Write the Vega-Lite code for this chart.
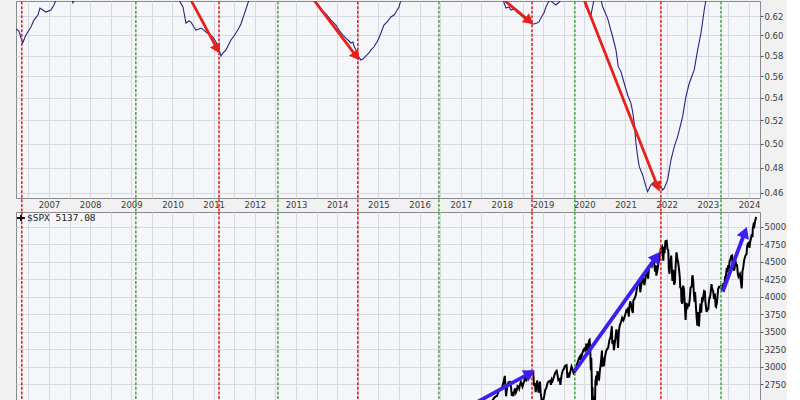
{
  "$schema": "https://vega.github.io/schema/vega-lite/v6.json",
  "padding": {"left": 12, "top": 0, "right": 0, "bottom": 0},
  "background": "#f1f1f2",
  "bounds": "flush",
  "spacing": 14,
  "config": {
    "view": {"fill": "#f5f6fa", "stroke": "#8a8a8a", "strokeWidth": 1},
    "axis": {"labelFont": "DejaVu Sans", "labelFontSize": 8.5, "labelColor": "#3a3a3a", "gridColor": "#d6d9df", "gridWidth": 1, "gridOpacity": 1, "domain": false, "tickColor": "#555555", "title": null, "labelOverlap": false, "labelFlush": false},
    "axisX": {"ticks": false, "labelPadding": 2},
    "axisY": {"ticks": true, "tickSize": 3, "labelPadding": 1}
  },
  "datasets": {
    "ratio": [
      {"t":2006.199,"ratio":0.6066},{"t":2006.271,"ratio":0.6045},{"t":2006.361,"ratio":0.5924},{"t":2006.441,"ratio":0.6005},{"t":2006.563,"ratio":0.6086},{"t":2006.636,"ratio":0.6158},{"t":2006.733,"ratio":0.621},{"t":2006.781,"ratio":0.6284},{"t":2006.854,"ratio":0.6263},{"t":2006.927,"ratio":0.6242},{"t":2007.049,"ratio":0.6263},{"t":2007.121,"ratio":0.6316},{"t":2007.17,"ratio":0.637},
      {"t":2007.29,"ratio":0.652},{"t":2007.45,"ratio":0.646},{"t":2007.534,"ratio":0.64},{"t":2007.583,"ratio":0.634},{"t":2007.631,"ratio":0.641},{"t":2007.8,"ratio":0.658},{"t":2008.02,"ratio":0.667},{"t":2008.4,"ratio":0.676},{"t":2008.75,"ratio":0.679},{"t":2009.1,"ratio":0.672},{"t":2009.48,"ratio":0.664},{"t":2009.8,"ratio":0.652},{"t":2010.0,"ratio":0.645},{"t":2010.08,"ratio":0.64},
      {"t":2010.157,"ratio":0.637},{"t":2010.254,"ratio":0.6295},{"t":2010.327,"ratio":0.6127},{"t":2010.4,"ratio":0.6148},{"t":2010.448,"ratio":0.6137},{"t":2010.521,"ratio":0.6086},{"t":2010.57,"ratio":0.6054},{"t":2010.643,"ratio":0.6065},{"t":2010.691,"ratio":0.6075},{"t":2010.764,"ratio":0.6054},{"t":2010.813,"ratio":0.6035},{"t":2010.885,"ratio":0.6014},{"t":2010.983,"ratio":0.5984},{"t":2011.055,"ratio":0.5934},{"t":2011.104,"ratio":0.5894},{"t":2011.177,"ratio":0.5796},{"t":2011.225,"ratio":0.5825},{"t":2011.298,"ratio":0.5855},{"t":2011.371,"ratio":0.5914},{"t":2011.42,"ratio":0.5954},{"t":2011.492,"ratio":0.5994},{"t":2011.541,"ratio":0.6025},{"t":2011.614,"ratio":0.6076},{"t":2011.662,"ratio":0.6117},{"t":2011.735,"ratio":0.621},{"t":2011.784,"ratio":0.6274},{"t":2011.857,"ratio":0.637},
      {"t":2012.15,"ratio":0.664},{"t":2012.63,"ratio":0.682},{"t":2013.12,"ratio":0.671},{"t":2013.36,"ratio":0.646},
      {"t":2013.435,"ratio":0.637},{"t":2013.532,"ratio":0.6305},{"t":2013.605,"ratio":0.6263},{"t":2013.727,"ratio":0.6221},{"t":2013.848,"ratio":0.6158},{"t":2013.969,"ratio":0.6106},{"t":2014.042,"ratio":0.6054},{"t":2014.139,"ratio":0.6004},{"t":2014.212,"ratio":0.5974},{"t":2014.285,"ratio":0.5944},{"t":2014.333,"ratio":0.5924},{"t":2014.382,"ratio":0.5934},{"t":2014.406,"ratio":0.5894},{"t":2014.455,"ratio":0.5855},{"t":2014.503,"ratio":0.5796},{"t":2014.576,"ratio":0.5757},{"t":2014.625,"ratio":0.5766},{"t":2014.697,"ratio":0.5796},{"t":2014.771,"ratio":0.5825},{"t":2014.819,"ratio":0.5855},{"t":2014.892,"ratio":0.5884},{"t":2014.965,"ratio":0.5934},{"t":2015.014,"ratio":0.5974},{"t":2015.062,"ratio":0.6025},{"t":2015.135,"ratio":0.6106},{"t":2015.208,"ratio":0.6137},{"t":2015.305,"ratio":0.619},{"t":2015.378,"ratio":0.621},{"t":2015.427,"ratio":0.6242},{"t":2015.5,"ratio":0.6295},{"t":2015.548,"ratio":0.637},
      {"t":2016.03,"ratio":0.667},{"t":2016.52,"ratio":0.69},{"t":2017.0,"ratio":0.684},{"t":2017.49,"ratio":0.664},{"t":2017.85,"ratio":0.643},
      {"t":2018.025,"ratio":0.637},{"t":2018.098,"ratio":0.6284},{"t":2018.171,"ratio":0.6295},{"t":2018.219,"ratio":0.6263},{"t":2018.292,"ratio":0.6274},{"t":2018.365,"ratio":0.6242},{"t":2018.462,"ratio":0.621},{"t":2018.559,"ratio":0.6169},{"t":2018.656,"ratio":0.6138},{"t":2018.729,"ratio":0.6117},{"t":2018.778,"ratio":0.6117},{"t":2018.85,"ratio":0.6127},{"t":2018.899,"ratio":0.6138},{"t":2018.972,"ratio":0.62},{"t":2019.02,"ratio":0.6231},{"t":2019.069,"ratio":0.6295},{"t":2019.117,"ratio":0.6337},{"t":2019.166,"ratio":0.637},{"t":2019.215,"ratio":0.635},{"t":2019.31,"ratio":0.6316},{"t":2019.41,"ratio":0.6355},{"t":2019.5,"ratio":0.643},
      {"t":2019.68,"ratio":0.654},{"t":2019.87,"ratio":0.646},
      {"t":2019.992,"ratio":0.637},{"t":2020.04,"ratio":0.6295},{"t":2020.113,"ratio":0.6231},{"t":2020.162,"ratio":0.621},{"t":2020.186,"ratio":0.6263},{"t":2020.21,"ratio":0.6316},{"t":2020.235,"ratio":0.637},
      {"t":2020.33,"ratio":0.646},
      {"t":2020.405,"ratio":0.637},{"t":2020.446,"ratio":0.6298},{"t":2020.567,"ratio":0.6176},{"t":2020.689,"ratio":0.5987},{"t":2020.769,"ratio":0.5855},{"t":2020.825,"ratio":0.5692},{"t":2020.89,"ratio":0.5645},{"t":2020.97,"ratio":0.5535},{"t":2021.053,"ratio":0.5427},{"t":2021.133,"ratio":0.5351},{"t":2021.174,"ratio":0.5276},{"t":2021.213,"ratio":0.5174},{"t":2021.255,"ratio":0.5002},{"t":2021.296,"ratio":0.489},{"t":2021.335,"ratio":0.4809},{"t":2021.417,"ratio":0.4742},{"t":2021.497,"ratio":0.4649},{"t":2021.538,"ratio":0.461},{"t":2021.618,"ratio":0.4663},{"t":2021.699,"ratio":0.4688},{"t":2021.781,"ratio":0.4676},{"t":2021.861,"ratio":0.4649},{"t":2021.903,"ratio":0.4623},{"t":2021.942,"ratio":0.4637},{"t":2022.024,"ratio":0.4702},{"t":2022.104,"ratio":0.4863},{"t":2022.185,"ratio":0.4974},{"t":2022.267,"ratio":0.5058},{"t":2022.388,"ratio":0.5232},{"t":2022.468,"ratio":0.5412},{"t":2022.549,"ratio":0.5535},{"t":2022.67,"ratio":0.5661},{"t":2022.753,"ratio":0.5855},{"t":2022.833,"ratio":0.6022},{"t":2022.913,"ratio":0.6263},{"t":2022.954,"ratio":0.637},
      {"t":2023.2,"ratio":0.667},{"t":2023.56,"ratio":0.69},{"t":2023.9,"ratio":0.7},{"t":2024.17,"ratio":0.705}
    ],
    "spx": [
      {"t":2006.2,"spx":1295},{"t":2006.5,"spx":1270},{"t":2006.75,"spx":1336},{"t":2007.0,"spx":1418},{"t":2007.25,"spx":1482},{"t":2007.5,"spx":1455},{"t":2007.75,"spx":1549},{"t":2008.0,"spx":1379},{"t":2008.25,"spx":1386},{"t":2008.5,"spx":1267},{"t":2008.75,"spx":969},{"t":2009.0,"spx":826},{"t":2009.2,"spx":683},{"t":2009.5,"spx":987},{"t":2009.75,"spx":1036},{"t":2010.0,"spx":1074},{"t":2010.25,"spx":1187},{"t":2010.5,"spx":1102},{"t":2010.75,"spx":1183},{"t":2011.0,"spx":1286},{"t":2011.25,"spx":1364},{"t":2011.5,"spx":1292},{"t":2011.75,"spx":1253},{"t":2012.0,"spx":1312},{"t":2012.25,"spx":1398},{"t":2012.5,"spx":1379},{"t":2012.75,"spx":1412},{"t":2013.0,"spx":1498},{"t":2013.25,"spx":1598},{"t":2013.5,"spx":1686},{"t":2013.75,"spx":1757},{"t":2014.0,"spx":1783},{"t":2014.25,"spx":1884},{"t":2014.5,"spx":1931},{"t":2014.75,"spx":2018},{"t":2015.0,"spx":1995},{"t":2015.25,"spx":2086},{"t":2015.5,"spx":2104},{"t":2015.75,"spx":2079},{"t":2016.0,"spx":1940},{"t":2016.25,"spx":2065},{"t":2016.5,"spx":2174},{"t":2016.75,"spx":2126},{"t":2016.92,"spx":2239},
      {"t":2017.0,"spx":2258},{"t":2017.08,"spx":2279},{"t":2017.16,"spx":2351},{"t":2017.2,"spx":2395},{"t":2017.28,"spx":2344},{"t":2017.36,"spx":2389},{"t":2017.44,"spx":2415},{"t":2017.48,"spx":2433},{"t":2017.52,"spx":2419},{"t":2017.56,"spx":2459},{"t":2017.6,"spx":2477},{"t":2017.64,"spx":2441},{"t":2017.66,"spx":2426},{"t":2017.68,"spx":2444},{"t":2017.72,"spx":2500},{"t":2017.76,"spx":2508},{"t":2017.8,"spx":2550},{"t":2017.84,"spx":2575},{"t":2017.88,"spx":2585},{"t":2017.92,"spx":2650},{"t":2017.96,"spx":2680},
      {"t":2018.0,"spx":2695},{"t":2018.04,"spx":2786},{"t":2018.07,"spx":2872},{"t":2018.1,"spx":2581},{"t":2018.13,"spx":2732},{"t":2018.16,"spx":2780},{"t":2018.19,"spx":2786},{"t":2018.22,"spx":2717},{"t":2018.24,"spx":2588},{"t":2018.26,"spx":2640},{"t":2018.28,"spx":2582},{"t":2018.3,"spx":2656},{"t":2018.32,"spx":2693},{"t":2018.34,"spx":2634},{"t":2018.36,"spx":2663},{"t":2018.38,"spx":2728},{"t":2018.4,"spx":2720},{"t":2018.42,"spx":2689},{"t":2018.44,"spx":2748},{"t":2018.46,"spx":2786},{"t":2018.48,"spx":2754},{"t":2018.5,"spx":2718},{"t":2018.54,"spx":2798},{"t":2018.57,"spx":2846},{"t":2018.59,"spx":2813},{"t":2018.61,"spx":2840},{"t":2018.63,"spx":2850},{"t":2018.66,"spx":2914},{"t":2018.68,"spx":2872},{"t":2018.71,"spx":2930},{"t":2018.74,"spx":2914},{"t":2018.76,"spx":2925},{"t":2018.78,"spx":2728},{"t":2018.8,"spx":2768},{"t":2018.82,"spx":2641},{"t":2018.84,"spx":2723},{"t":2018.855,"spx":2806},{"t":2018.87,"spx":2736},{"t":2018.89,"spx":2633},{"t":2018.91,"spx":2743},{"t":2018.925,"spx":2790},{"t":2018.94,"spx":2633},{"t":2018.96,"spx":2546},{"t":2018.98,"spx":2351},
      {"t":2019.0,"spx":2510},{"t":2019.03,"spx":2596},{"t":2019.05,"spx":2670},{"t":2019.08,"spx":2704},{"t":2019.11,"spx":2775},{"t":2019.14,"spx":2793},{"t":2019.17,"spx":2803},{"t":2019.19,"spx":2744},{"t":2019.21,"spx":2822},{"t":2019.23,"spx":2800},{"t":2019.25,"spx":2834},{"t":2019.28,"spx":2895},{"t":2019.31,"spx":2933},{"t":2019.33,"spx":2945},{"t":2019.35,"spx":2881},{"t":2019.37,"spx":2812},{"t":2019.4,"spx":2826},{"t":2019.42,"spx":2744},{"t":2019.45,"spx":2886},{"t":2019.48,"spx":2954},{"t":2019.5,"spx":2964},{"t":2019.53,"spx":3014},{"t":2019.57,"spx":3025},{"t":2019.59,"spx":2844},{"t":2019.61,"spx":2918},{"t":2019.63,"spx":2847},{"t":2019.66,"spx":2926},{"t":2019.69,"spx":3007},{"t":2019.72,"spx":2962},{"t":2019.75,"spx":2888},{"t":2019.78,"spx":2970},{"t":2019.81,"spx":3023},{"t":2019.84,"spx":3066},{"t":2019.87,"spx":3120},{"t":2019.9,"spx":3153},{"t":2019.92,"spx":3093},{"t":2019.95,"spx":3192},{"t":2019.98,"spx":3240},
      {"t":2020.0,"spx":3258},{"t":2020.02,"spx":3235},{"t":2020.04,"spx":3275},{"t":2020.05,"spx":3330},{"t":2020.07,"spx":3244},{"t":2020.08,"spx":3225},{"t":2020.1,"spx":3328},{"t":2020.12,"spx":3380},{"t":2020.13,"spx":3386},{"t":2020.145,"spx":3225},{"t":2020.16,"spx":2954},{"t":2020.17,"spx":3130},{"t":2020.18,"spx":2882},{"t":2020.19,"spx":2480},{"t":2020.2,"spx":2711},{"t":2020.21,"spx":2386},{"t":2020.22,"spx":2305},{"t":2020.225,"spx":2237},{"t":2020.23,"spx":2475},{"t":2020.245,"spx":2584},{"t":2020.26,"spx":2488},{"t":2020.27,"spx":2790},{"t":2020.29,"spx":2875},{"t":2020.3,"spx":2737},{"t":2020.32,"spx":2939},{"t":2020.34,"spx":2830},{"t":2020.36,"spx":2820},{"t":2020.38,"spx":2955},{"t":2020.4,"spx":3044},{"t":2020.43,"spx":3232},{"t":2020.44,"spx":3002},{"t":2020.46,"spx":3131},{"t":2020.48,"spx":3009},{"t":2020.5,"spx":3130},{"t":2020.53,"spx":3224},{"t":2020.56,"spx":3258},{"t":2020.58,"spx":3271},{"t":2020.61,"spx":3380},{"t":2020.64,"spx":3431},{"t":2020.67,"spx":3580},{"t":2020.68,"spx":3331},{"t":2020.7,"spx":3383},{"t":2020.72,"spx":3237},{"t":2020.75,"spx":3380},{"t":2020.78,"spx":3534},{"t":2020.8,"spx":3453},{"t":2020.82,"spx":3271},{"t":2020.84,"spx":3510},{"t":2020.86,"spx":3585},{"t":2020.89,"spx":3638},{"t":2020.92,"spx":3699},{"t":2020.95,"spx":3663},{"t":2020.97,"spx":3694},
      {"t":2021.0,"spx":3756},{"t":2021.03,"spx":3825},{"t":2021.05,"spx":3768},{"t":2021.07,"spx":3851},{"t":2021.08,"spx":3714},{"t":2021.1,"spx":3887},{"t":2021.12,"spx":3934},{"t":2021.14,"spx":3876},{"t":2021.16,"spx":3811},{"t":2021.18,"spx":3768},{"t":2021.19,"spx":3943},{"t":2021.22,"spx":3974},{"t":2021.25,"spx":4019},{"t":2021.28,"spx":4128},{"t":2021.3,"spx":4185},{"t":2021.32,"spx":4180},{"t":2021.34,"spx":4232},{"t":2021.36,"spx":4063},{"t":2021.38,"spx":4156},{"t":2021.41,"spx":4230},{"t":2021.44,"spx":4247},{"t":2021.46,"spx":4166},{"t":2021.49,"spx":4280},{"t":2021.51,"spx":4352},{"t":2021.54,"spx":4327},{"t":2021.55,"spx":4258},{"t":2021.57,"spx":4411},{"t":2021.6,"spx":4436},{"t":2021.62,"spx":4468},{"t":2021.64,"spx":4441},{"t":2021.66,"spx":4509},{"t":2021.68,"spx":4535},{"t":2021.7,"spx":4459},{"t":2021.72,"spx":4357},{"t":2021.74,"spx":4448},{"t":2021.75,"spx":4300},{"t":2021.78,"spx":4391},{"t":2021.8,"spx":4471},{"t":2021.82,"spx":4544},{"t":2021.84,"spx":4605},{"t":2021.86,"spx":4697},{"t":2021.87,"spx":4682},{"t":2021.89,"spx":4704},{"t":2021.905,"spx":4595},{"t":2021.92,"spx":4513},{"t":2021.935,"spx":4712},{"t":2021.95,"spx":4620},{"t":2021.97,"spx":4791},
      {"t":2022.0,"spx":4796},{"t":2022.02,"spx":4677},{"t":2022.04,"spx":4662},{"t":2022.055,"spx":4398},{"t":2022.07,"spx":4326},{"t":2022.08,"spx":4515},{"t":2022.1,"spx":4500},{"t":2022.11,"spx":4587},{"t":2022.13,"spx":4348},{"t":2022.14,"spx":4225},{"t":2022.16,"spx":4385},{"t":2022.18,"spx":4170},{"t":2022.2,"spx":4204},{"t":2022.22,"spx":4463},{"t":2022.24,"spx":4631},{"t":2022.26,"spx":4545},{"t":2022.28,"spx":4488},{"t":2022.3,"spx":4392},{"t":2022.32,"spx":4271},{"t":2022.33,"spx":4132},{"t":2022.35,"spx":4123},{"t":2022.36,"spx":3935},{"t":2022.38,"spx":3901},{"t":2022.4,"spx":4158},{"t":2022.42,"spx":4109},{"t":2022.44,"spx":3900},{"t":2022.46,"spx":3667},{"t":2022.48,"spx":3912},{"t":2022.5,"spx":3825},{"t":2022.52,"spx":3899},{"t":2022.54,"spx":3863},{"t":2022.56,"spx":3962},{"t":2022.58,"spx":4130},{"t":2022.61,"spx":4145},{"t":2022.62,"spx":4280},{"t":2022.63,"spx":4305},{"t":2022.645,"spx":4228},{"t":2022.66,"spx":4057},{"t":2022.68,"spx":3924},{"t":2022.69,"spx":4067},{"t":2022.71,"spx":3873},{"t":2022.73,"spx":3693},{"t":2022.745,"spx":3586},{"t":2022.76,"spx":3783},{"t":2022.77,"spx":3640},{"t":2022.785,"spx":3577},{"t":2022.8,"spx":3752},{"t":2022.82,"spx":3901},{"t":2022.84,"spx":3771},{"t":2022.86,"spx":3993},{"t":2022.88,"spx":3966},{"t":2022.91,"spx":4080},{"t":2022.93,"spx":4072},{"t":2022.94,"spx":3934},{"t":2022.955,"spx":3852},{"t":2022.97,"spx":3783},
      {"t":2023.0,"spx":3839},{"t":2023.01,"spx":3808},{"t":2023.02,"spx":3895},{"t":2023.04,"spx":3999},{"t":2023.05,"spx":3972},{"t":2023.07,"spx":4070},{"t":2023.09,"spx":4179},{"t":2023.1,"spx":4136},{"t":2023.12,"spx":4090},{"t":2023.13,"spx":4079},{"t":2023.15,"spx":3970},{"t":2023.17,"spx":4045},{"t":2023.19,"spx":3862},{"t":2023.2,"spx":3855},{"t":2023.22,"spx":3917},{"t":2023.23,"spx":3971},{"t":2023.25,"spx":4109},{"t":2023.27,"spx":4138},{"t":2023.3,"spx":4133},{"t":2023.32,"spx":4169},{"t":2023.34,"spx":4090},{"t":2023.36,"spx":4124},{"t":2023.38,"spx":4192},{"t":2023.4,"spx":4151},{"t":2023.42,"spx":4282},{"t":2023.44,"spx":4298},{"t":2023.46,"spx":4410},{"t":2023.48,"spx":4348},{"t":2023.495,"spx":4450},{"t":2023.51,"spx":4398},{"t":2023.53,"spx":4505},{"t":2023.55,"spx":4536},{"t":2023.57,"spx":4582},{"t":2023.59,"spx":4589},{"t":2023.6,"spx":4478},{"t":2023.62,"spx":4464},{"t":2023.635,"spx":4370},{"t":2023.65,"spx":4405},{"t":2023.67,"spx":4516},{"t":2023.69,"spx":4457},{"t":2023.71,"spx":4450},{"t":2023.73,"spx":4320},{"t":2023.745,"spx":4288},{"t":2023.76,"spx":4309},{"t":2023.78,"spx":4327},{"t":2023.8,"spx":4224},{"t":2023.82,"spx":4117},{"t":2023.83,"spx":4166},{"t":2023.84,"spx":4358},{"t":2023.86,"spx":4415},{"t":2023.88,"spx":4514},{"t":2023.9,"spx":4559},{"t":2023.92,"spx":4594},{"t":2023.94,"spx":4604},{"t":2023.955,"spx":4719},{"t":2023.97,"spx":4754},{"t":2023.995,"spx":4770},
      {"t":2024.01,"spx":4697},{"t":2024.03,"spx":4783},{"t":2024.05,"spx":4840},{"t":2024.07,"spx":4891},{"t":2024.085,"spx":4846},{"t":2024.09,"spx":4959},{"t":2024.11,"spx":5027},{"t":2024.13,"spx":5006},{"t":2024.15,"spx":5088},{"t":2024.16,"spx":5096},{"t":2024.17,"spx":5137.08}
    ],
    "signals": [
      {"t":2006.34,"signal":"sell"},{"t":2011.13,"signal":"sell"},{"t":2014.5,"signal":"sell"},{"t":2018.73,"signal":"sell"},{"t":2021.86,"signal":"sell"},
      {"t":2009.11,"signal":"buy"},{"t":2012.56,"signal":"buy"},{"t":2016.47,"signal":"buy"},{"t":2019.77,"signal":"buy"},{"t":2023.32,"signal":"buy"}
    ],
    "redArrows": [
      {"arrow":"r1","t0":2010.317,"v0":0.6478,"t1":2011.07,"v1":0.5878},
      {"arrow":"r2","t0":2013.251,"v0":0.6478,"t1":2014.443,"v1":0.5805},
      {"arrow":"r3","t0":2017.753,"v0":0.6478,"t1":2018.634,"v1":0.616},
      {"arrow":"r4","t0":2019.904,"v0":0.6478,"t1":2021.769,"v1":0.466}
    ],
    "blueArrows": [
      {"arrow":"bA","t0":2017.046,"v0":2385,"t1":2018.639,"v1":2897},
      {"arrow":"bB","t0":2019.756,"v0":2931,"t1":2021.726,"v1":4550},
      {"arrow":"bC","t0":2023.36,"v0":4071,"t1":2023.883,"v1":4893}
    ],
    "tag": [
      {"t":2006.32,"spx":5121,"label":"$SPX 5137.08"}
    ]
  },
  "vconcat": [
    {
      "width": 744,
      "height": 197,
      "resolve": {"axis": {"x": "independent", "y": "independent"}},
      "layer": [
        {
          "data": {"name": "ratio"},
          "mark": {"type": "line", "color": "#25257f", "strokeWidth": 1.1, "clip": true},
          "encoding": {
            "x": {"field": "t", "type": "quantitative", "scale": {"domain": [2006.2, 2024.267], "nice": false, "zero": false},
                  "axis": {"orient": "bottom", "values": [2007,2008,2009,2010,2011,2012,2013,2014,2015,2016,2017,2018,2019,2020,2021,2022,2023,2024], "format": "d", "grid": true, "labelOverlap": false}},
            "y": {"field": "ratio", "type": "quantitative", "scale": {"type": "log", "domain": [0.4561, 0.6359], "nice": false},
                  "axis": {"orient": "right", "values": [0.46,0.48,0.5,0.52,0.54,0.56,0.58,0.6,0.62], "format": ".2f", "grid": true, "labelOverlap": false}}
          }
        },
        {
          "data": {"name": "signals"},
          "mark": {"type": "rule", "strokeWidth": 1.6, "strokeDash": [3, 1.6], "clip": false},
          "encoding": {
            "x": {"field": "t", "type": "quantitative", "scale": {"domain": [2006.2, 2024.267], "nice": false, "zero": false},
                  "axis": {"orient": "bottom", "values": [2006.5,2007.5,2008.5,2009.5,2010.5,2011.5,2012.5,2013.5,2014.5,2015.5,2016.5,2017.5,2018.5,2019.5,2020.5,2021.5,2022.5,2023.5], "labels": false, "grid": true}},
            "y": {"datum": 0.6353, "type": "quantitative", "scale": {"type": "log", "domain": [0.4561, 0.6359], "nice": false}, "axis": null},
            "y2": {"datum": 0.4454},
            "color": {"field": "signal", "type": "nominal", "scale": {"domain": ["sell", "buy"], "range": ["#d92b2b", "#52a852"]}, "legend": null}
          }
        },
        {
          "data": {"name": "redArrows"},
          "mark": {"type": "rule", "color": "#e8201a", "strokeWidth": 2.8, "clip": true},
          "encoding": {
            "x": {"field": "t0", "type": "quantitative", "scale": {"domain": [2006.2, 2024.267], "nice": false, "zero": false}, "axis": null},
            "y": {"field": "v0", "type": "quantitative", "scale": {"type": "log", "domain": [0.4561, 0.6359], "nice": false}, "axis": null},
            "x2": {"field": "t1"},
            "y2": {"field": "v1"}
          }
        },
        {"data": {"name": "redArrows"}, "transform": [{"filter": "datum.arrow === 'r1'"}],
         "mark": {"type": "point", "shape": "triangle", "angle": 151.7, "filled": true, "size": 130, "color": "#e8201a", "opacity": 1, "clip": true},
         "encoding": {"x": {"field": "t1", "type": "quantitative", "scale": {"domain": [2006.2, 2024.267], "nice": false, "zero": false}, "axis": null},
                      "y": {"field": "v1", "type": "quantitative", "scale": {"type": "log", "domain": [0.4561, 0.6359], "nice": false}, "axis": null}}},
        {"data": {"name": "redArrows"}, "transform": [{"filter": "datum.arrow === 'r2'"}],
         "mark": {"type": "point", "shape": "triangle", "angle": 142.7, "filled": true, "size": 130, "color": "#e8201a", "opacity": 1, "clip": true},
         "encoding": {"x": {"field": "t1", "type": "quantitative", "scale": {"domain": [2006.2, 2024.267], "nice": false, "zero": false}, "axis": null},
                      "y": {"field": "v1", "type": "quantitative", "scale": {"type": "log", "domain": [0.4561, 0.6359], "nice": false}, "axis": null}}},
        {"data": {"name": "redArrows"}, "transform": [{"filter": "datum.arrow === 'r3'"}],
         "mark": {"type": "point", "shape": "triangle", "angle": 129.4, "filled": true, "size": 130, "color": "#e8201a", "opacity": 1, "clip": true},
         "encoding": {"x": {"field": "t1", "type": "quantitative", "scale": {"domain": [2006.2, 2024.267], "nice": false, "zero": false}, "axis": null},
                      "y": {"field": "v1", "type": "quantitative", "scale": {"type": "log", "domain": [0.4561, 0.6359], "nice": false}, "axis": null}}},
        {"data": {"name": "redArrows"}, "transform": [{"filter": "datum.arrow === 'r4'"}],
         "mark": {"type": "point", "shape": "triangle", "angle": 158.5, "filled": true, "size": 130, "color": "#e8201a", "opacity": 1, "clip": true},
         "encoding": {"x": {"field": "t1", "type": "quantitative", "scale": {"domain": [2006.2, 2024.267], "nice": false, "zero": false}, "axis": null},
                      "y": {"field": "v1", "type": "quantitative", "scale": {"type": "log", "domain": [0.4561, 0.6359], "nice": false}, "axis": null}}}
      ]
    },
    {
      "width": 744,
      "height": 188,
      "resolve": {"axis": {"x": "independent", "y": "independent"}},
      "layer": [
        {
          "data": {"name": "spx"},
          "mark": {"type": "line", "color": "#000000", "strokeWidth": 2, "clip": true},
          "encoding": {
            "x": {"field": "t", "type": "quantitative", "scale": {"domain": [2006.2, 2024.267], "nice": false, "zero": false},
                  "axis": {"orient": "bottom", "values": [2006.5,2007,2007.5,2008,2008.5,2009,2009.5,2010,2010.5,2011,2011.5,2012,2012.5,2013,2013.5,2014,2014.5,2015,2015.5,2016,2016.5,2017,2017.5,2018,2018.5,2019,2019.5,2020,2020.5,2021,2021.5,2022,2022.5,2023,2023.5,2024],
                           "labels": false, "grid": true}},
            "y": {"field": "spx", "type": "quantitative", "scale": {"domain": [2528, 5207], "nice": false, "zero": false},
                  "axis": {"orient": "right", "values": [2750,3000,3250,3500,3750,4000,4250,4500,4750,5000], "format": "d", "grid": true, "labelOverlap": false}}
          }
        },
        {
          "data": {"name": "signals"},
          "mark": {"type": "rule", "strokeWidth": 1.6, "strokeDash": [3, 1.6]},
          "encoding": {
            "x": {"field": "t", "type": "quantitative", "scale": {"domain": [2006.2, 2024.267], "nice": false, "zero": false}, "axis": null},
            "color": {"field": "signal", "type": "nominal", "scale": {"domain": ["sell", "buy"], "range": ["#d92b2b", "#52a852"]}, "legend": null}
          }
        },
        {
          "data": {"name": "blueArrows"},
          "mark": {"type": "rule", "color": "#3d1ef0", "strokeWidth": 3.8, "clip": true},
          "encoding": {
            "x": {"field": "t0", "type": "quantitative", "scale": {"domain": [2006.2, 2024.267], "nice": false, "zero": false}, "axis": null},
            "y": {"field": "v0", "type": "quantitative", "scale": {"domain": [2528, 5207], "nice": false, "zero": false}, "axis": null},
            "x2": {"field": "t1"},
            "y2": {"field": "v1"}
          }
        },
        {"data": {"name": "blueArrows"}, "transform": [{"filter": "datum.arrow === 'bA'"}],
         "mark": {"type": "point", "shape": "triangle", "angle": 61.3, "filled": true, "size": 170, "color": "#3d1ef0", "opacity": 1, "clip": true},
         "encoding": {"x": {"field": "t1", "type": "quantitative", "scale": {"domain": [2006.2, 2024.267], "nice": false, "zero": false}, "axis": null},
                      "y": {"field": "v1", "type": "quantitative", "scale": {"domain": [2528, 5207], "nice": false, "zero": false}, "axis": null}}},
        {"data": {"name": "blueArrows"}, "transform": [{"filter": "datum.arrow === 'bB'"}],
         "mark": {"type": "point", "shape": "triangle", "angle": 35.5, "filled": true, "size": 170, "color": "#3d1ef0", "opacity": 1, "clip": true},
         "encoding": {"x": {"field": "t1", "type": "quantitative", "scale": {"domain": [2006.2, 2024.267], "nice": false, "zero": false}, "axis": null},
                      "y": {"field": "v1", "type": "quantitative", "scale": {"domain": [2528, 5207], "nice": false, "zero": false}, "axis": null}}},
        {"data": {"name": "blueArrows"}, "transform": [{"filter": "datum.arrow === 'bC'"}],
         "mark": {"type": "point", "shape": "triangle", "angle": 20.5, "filled": true, "size": 170, "color": "#3d1ef0", "opacity": 1, "clip": true},
         "encoding": {"x": {"field": "t1", "type": "quantitative", "scale": {"domain": [2006.2, 2024.267], "nice": false, "zero": false}, "axis": null},
                      "y": {"field": "v1", "type": "quantitative", "scale": {"domain": [2528, 5207], "nice": false, "zero": false}, "axis": null}}},
        {"data": {"name": "tag"},
         "mark": {"type": "point", "shape": "M-1,0L1,0M0,-0.75L0,0.75", "filled": false, "size": 64, "stroke": "#111111", "strokeWidth": 2, "opacity": 1},
         "encoding": {"x": {"field": "t", "type": "quantitative", "scale": {"domain": [2006.2, 2024.267], "nice": false, "zero": false}, "axis": null},
                      "y": {"field": "spx", "type": "quantitative", "scale": {"domain": [2528, 5207], "nice": false, "zero": false}, "axis": null}}},
        {"data": {"name": "tag"},
         "mark": {"type": "text", "align": "left", "baseline": "middle", "dx": 6, "font": "DejaVu Sans Mono", "fontSize": 9.5, "color": "#222222"},
         "encoding": {"x": {"field": "t", "type": "quantitative", "scale": {"domain": [2006.2, 2024.267], "nice": false, "zero": false}, "axis": null},
                      "y": {"field": "spx", "type": "quantitative", "scale": {"domain": [2528, 5207], "nice": false, "zero": false}, "axis": null},
                      "text": {"field": "label"}}}
      ]
    }
  ]
}
